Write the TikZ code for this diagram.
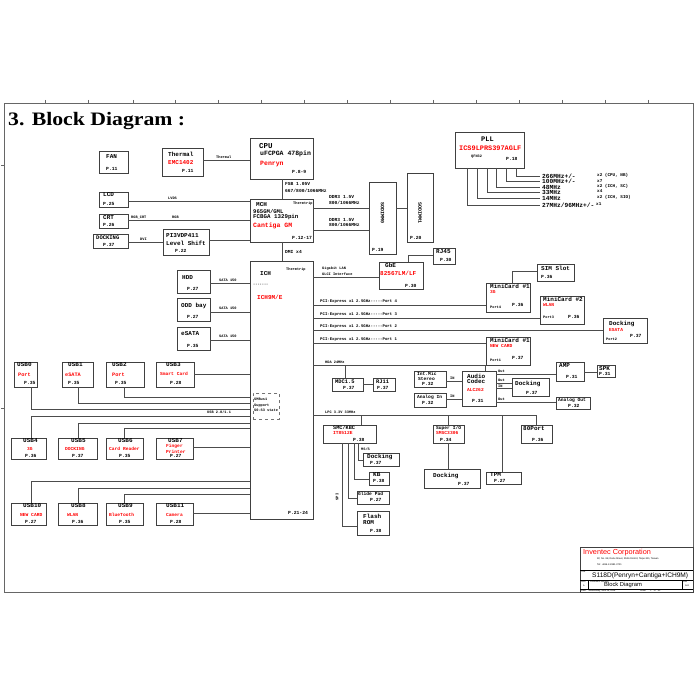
\documentclass[tikz,border=0pt]{standalone}
\usepackage{fontspec}
\usepackage{graphicx}
\setmainfont{Liberation Serif}
\newfontfamily\mono{Liberation Mono}
\newfontfamily\sansf{Liberation Sans}
\newcommand\bx[5]{\node[box,minimum width={(#4-#2)*1pt},minimum height={(#5-#3)*1pt},anchor=north west] (#1) at (#2,#3) {};}
\newcommand\fs[1]{\fontsize{#1}{#1}\selectfont}
\tikzset{
  box/.style={draw=black!75, line width=0.9pt, inner sep=0pt, outer sep=0pt},
  wire/.style={draw=black!70, line width=0.8pt},
  frame/.style={draw=black!60, line width=0.7pt},
  t/.style={inner sep=0pt, anchor=west, font=\mono\bfseries\fs{6}},
  tb/.style={t, font=\mono\bfseries\fs{6.5}},
  tr/.style={t, text=red, font=\mono\bfseries\fs{6}},
  trs/.style={t, text=red, font=\mono\bfseries\fs{4.6}},
  tp/.style={t, font=\mono\bfseries\fs{4.7}},
  tl/.style={t, font=\mono\bfseries\fs{4.6}},
  ts/.style={t, font=\mono\bfseries\fs{3.6}},
  tq/.style={t, font=\mono\bfseries\fs{4}},
  tf/.style={t, font=\mono\bfseries\fs{6.2}},
  tx/.style={t, font=\mono\bfseries\fs{4.3}},
  sf/.style={inner sep=0pt, anchor=west, font=\sansf},
}
\begin{document}
\begin{tikzpicture}[x=1pt,y=-1pt]
\useasboundingbox (0,0) rectangle (700,700);
% ---------- frame ----------
\draw[frame] (4,103) rectangle (693,592);
\foreach \xx in {45,88,133,175,218,261,304,347,390,433,476,519,562,605,648}
  \draw[frame] (\xx,100) -- (\xx,103);
\foreach \yy in {165,408}
  \draw[frame] (1,\yy) -- (4,\yy);
\node[anchor=base west, inner sep=0pt, font=\bfseries\fs{19}] (title) at (8,126) {\scalebox{1.145}[1]{3. Block Diagram :}};

% ---------- boxes ----------
\bx{fan}{99}{151}{128}{173}
\bx{thermal}{162}{148}{203}{176}
\bx{cpu}{250}{138}{313}{179}
\bx{mch}{250}{199}{313}{242}
\bx{sd0}{369}{182}{396}{254}
\bx{sd1}{407}{173}{433}{242}
\bx{pll}{455}{132}{524}{168}
\bx{lcd}{99}{192}{128}{207}
\bx{crt}{99}{214}{128}{228}
\bx{dockv}{93}{234}{128}{248}
\bx{pi3}{163}{229}{209}{255}
\bx{hdd}{177}{270}{210}{293}
\bx{odd}{177}{298}{210}{321}
\bx{esata}{177}{327}{210}{350}
\bx{ich}{250}{261}{313}{519}
\node[draw=black!55, dashed, line width=0.6pt, inner sep=0pt, minimum width=26pt, minimum height=26pt, anchor=north west] (smb) at (253,393) {};
\bx{gbe}{379}{262}{423}{289}
\bx{rj45}{433}{248}{455}{264}
\bx{mca}{486}{283}{530}{312}
\bx{sim}{537}{264}{574}{281}
\bx{mcb}{540}{296}{584}{324}
\bx{docke}{603}{318}{647}{343}
\bx{mcc}{486}{337}{530}{365}
\bx{mdc}{332}{378}{363}{391}
\bx{rj11}{373}{378}{395}{391}
\bx{intmic}{414}{371}{446}{387}
\bx{ain}{414}{393}{446}{407}
\bx{codec}{462}{371}{496}{406}
\bx{amp}{556}{362}{584}{381}
\bx{spk}{597}{365}{615}{377}
\bx{docka}{512}{378}{549}{396}
\bx{aout}{556}{397}{590}{409}
\bx{ec}{323}{425}{376}{443}
\bx{sio}{433}{425}{464}{443}
\bx{p80}{521}{425}{552}{443}
\bx{tpm}{486}{472}{521}{484}
\bx{docks}{424}{469}{480}{488}
\bx{dockk}{363}{453}{399}{466}
\bx{kb}{369}{472}{389}{485}
\bx{gpad}{357}{491}{389}{504}
\bx{rom}{357}{511}{389}{535}
\bx{usb0}{14}{362}{37}{387}
\bx{usb1}{62}{362}{93}{387}
\bx{usb2}{106}{362}{144}{387}
\bx{usb3}{156}{362}{194}{387}
\bx{usb4}{11}{438}{46}{459}
\bx{usb5}{58}{438}{97}{459}
\bx{usb6}{106}{438}{143}{459}
\bx{usb7}{156}{438}{193}{459}
\bx{usb10}{11}{503}{46}{525}
\bx{usb8}{58}{503}{97}{525}
\bx{usb9}{106}{503}{143}{525}
\bx{usb11}{156}{503}{193}{525}

% ---------- texts ----------
\node[t] (fanA) at (106,157) {FAN};
\node[tp] (fanP) at (106,169) {P.11};
\node[t] (thA) at (168,154) {Thermal};
\node[tr] (thB) at (168,163) {EMC1402};
\node[tp] (thP) at (182,171) {P.11};
\node[ts] (thW) at (216,157) {Thermal};

\node[t, font=\mono\bfseries\fs{7.5}] (cpuA) at (259,146) {CPU};
\node[tb] (cpuB) at (260,154) {uFCPGA 478pin};
\node[tr, font=\mono\bfseries\fs{6.5}] (cpuC) at (260,164) {Penryn};
\node[tp] (cpuP) at (292,172) {P.8-9};
\node[tl] (fsbA) at (285,184) {FSB 1.05V};
\node[tl] (fsbB) at (285,191) {667/800/1066MHz};

\node[t] (mchA) at (256,205) {MCH};
\node[ts] (mchS) at (293,204) {Thermtrip};
\node[t, font=\mono\bfseries\fs{5.6}] (mchB) at (253,211) {965GM/GML};
\node[t, font=\mono\bfseries\fs{5.8}] (mchC) at (253,217) {FCBGA 1329pin};
\node[tr, font=\mono\bfseries\fs{6.5}] (mchD) at (253,226) {Cantiga GM};
\node[tp] (mchP) at (292,238) {P.12-17};
\node[tl] (ddrA) at (329,197) {DDR3 1.5V};
\node[tl] (ddrB) at (329,203) {800/1066MHz};
\node[tl] (ddrC) at (329,220) {DDR3 1.5V};
\node[tl] (ddrD) at (329,225) {800/1066MHz};
\node[inner sep=0pt, font=\mono\bfseries\fs{5}] (sd0T) at (382.5,213) {\rotatebox{-90}{SODIMM0}};
\node[tp] (sd0P) at (372,250) {P.19};
\node[inner sep=0pt, font=\mono\bfseries\fs{5}] (sd1T) at (420,213) {\rotatebox{-90}{SODIMM1}};
\node[tp] (sd1P) at (410,238) {P.20};
\node[tl] (dmi) at (285,252) {DMI x4};

\node[t, font=\mono\bfseries\fs{7}] (pllA) at (481,139) {PLL};
\node[tr, font=\mono\bfseries\fs{6.9}] (pllB) at (459,148) {ICS9LPRS397AGLF};
\node[ts] (pllC) at (471,157) {QFN32};
\node[tp] (pllP) at (506,159) {P.18};
\node[tf] (fq1) at (542,176) {266MHz+/-};
\node[tf] (fq2) at (542,181.5) {100MHz+/-};
\node[tf] (fq3) at (542,187) {48MHz};
\node[tf] (fq4) at (542,192.5) {33MHz};
\node[tf] (fq5) at (542,198) {14MHz};
\node[tf] (fq6) at (542,205) {27MHz/96MHz+/-};
\node[tx] (fr1) at (597,175) {x2 (CPU, NB)};
\node[tx] (fr2) at (597,181) {x7};
\node[tx] (fr3) at (597,186) {x2 (ICH, SC)};
\node[tx] (fr4) at (597,191.5) {x4};
\node[tx] (fr5) at (597,197) {x2 (ICH, SIO)};
\node[tx] (fr6) at (596,204) {x1};

\node[t] (lcdA) at (103,195) {LCD};
\node[tp] (lcdP) at (103,204) {P.25};
\node[t] (crtA) at (103,218) {CRT};
\node[tp] (crtP) at (103,225) {P.26};
\node[t, font=\mono\bfseries\fs{5.5}] (dvA) at (96,237.5) {DOCKING};
\node[tp] (dvP) at (103,245) {P.37};
\node[t] (piA) at (166,236) {PI3VDP411};
\node[t] (piB) at (166,243) {Level Shift};
\node[tp] (piP) at (175,251) {P.22};
\node[ts] (lvds) at (168,198) {LVDS};
\node[ts] (rgbc) at (131,217) {RGB\_CRT};
\node[ts] (rgb) at (172,217) {RGB};
\node[ts] (dvi) at (140,239) {DVI};

\node[t] (hddA) at (182,278) {HDD};
\node[tp] (hddP) at (187,289) {P.27};
\node[t] (oddA) at (181,306) {ODD bay};
\node[tp] (oddP) at (187,317) {P.27};
\node[t] (esA) at (181,334) {eSATA};
\node[tp] (esP) at (187,346) {P.35};
\node[ts] (sata1) at (219,280) {SATA 150};
\node[ts] (sata2) at (219,308) {SATA 150};
\node[ts] (sata3) at (219,336) {SATA 150};

\node[t] (ichA) at (260,274) {ICH};
\node[ts] (ichS) at (286,270) {Thermtrip};
\node[ts] (ichT) at (253,285) {-------};
\node[tr] (ichB) at (257,297) {ICH9M/E};
\node[tp] (ichP) at (288,513) {P.21-24};
\node[ts] (smbA) at (254,399) {SMBus1};
\node[ts] (smbB) at (254,406) {Support};
\node[ts] (smbC) at (254,410) {S0-S3 state};

\node[ts] (glA) at (322,269) {Gigabit LAN};
\node[ts] (glB) at (322,274) {GLCI Interface};
\node[t] (gbeA) at (385,265) {GbE};
\node[tr] (gbeB) at (380,273) {82567LM/LF};
\node[tp] (gbeP) at (405,286) {P.30};
\node[t] (rjA) at (436,252) {RJ45};
\node[tp] (rjP) at (440,260) {P.30};

\node[tq] (pe4) at (320,302) {PCI-Express x1 2.5GHz-----Port 4};
\node[tq] (pe3) at (320,315) {PCI-Express x1 2.5GHz-----Port 3};
\node[tq] (pe2) at (320,327) {PCI-Express x1 2.5GHz-----Port 2};
\node[tq] (pe1) at (320,340) {PCI-Express x1 2.5GHz-----Port 1};
\node[t] (mcaA) at (490,286) {MiniCard \#1};
\node[trs] (mcaB) at (490,292) {3G};
\node[ts] (mcaC) at (490,307) {Port4};
\node[tp] (mcaP) at (512,305) {P.36};
\node[t] (simA) at (541,268) {SIM Slot};
\node[tp] (simP) at (541,277) {P.36};
\node[t] (mcbA) at (543,299) {MiniCard \#2};
\node[trs] (mcbB) at (543,305) {WLAN};
\node[ts] (mcbC) at (543,317) {Port3};
\node[tp] (mcbP) at (568,317) {P.36};
\node[t] (dkeA) at (609,324) {Docking};
\node[trs] (dkeB) at (609,330) {ESATA};
\node[ts] (dkeC) at (606,339) {Port2};
\node[tp] (dkeP) at (630,336) {P.37};
\node[t] (mccA) at (490,340) {MiniCard \#1};
\node[trs] (mccB) at (490,346) {NEW CARD};
\node[ts] (mccC) at (490,360) {Port1};
\node[tp] (mccP) at (512,358) {P.37};

\node[ts] (hda) at (325,362) {HDA 24MHz};
\node[t, font=\mono\bfseries\fs{5.4}] (mdcA) at (335,382) {MDC1.5};
\node[tp] (mdcP) at (343,388) {P.37};
\node[t, font=\mono\bfseries\fs{5.4}] (rj11A) at (376,382) {RJ11};
\node[tp] (rj11P) at (377,388) {P.37};
\node[t, font=\mono\bfseries\fs{4.6}] (imA) at (417,374) {Int.Mic};
\node[t, font=\mono\bfseries\fs{4.6}] (imB) at (418,379) {Stereo};
\node[tp] (imP) at (422,384) {P.32};
\node[t, font=\mono\bfseries\fs{4.6}] (aiA) at (417,397) {Analog In};
\node[tp] (aiP) at (422,403) {P.32};
\node[t] (cdA) at (467,376) {Audio};
\node[t] (cdB) at (467,381) {Codec};
\node[trs] (cdC) at (467,390) {ALC262};
\node[tp] (cdP) at (472,401) {P.31};
\node[ts] (in1) at (450,378) {IN};
\node[ts] (in2) at (450,396) {IN};
\node[ts] (ou1) at (498,371) {Out};
\node[ts] (ou2) at (498,380) {Out};
\node[ts] (in3) at (498,386) {IN};
\node[ts] (ou3) at (498,399) {Out};
\node[t] (ampA) at (559,366) {AMP};
\node[tp] (ampP) at (566,377) {P.31};
\node[t] (spkA) at (599,368.5) {SPK};
\node[tp] (spkP) at (599,374) {P.31};
\node[t] (dkaA) at (515,384) {Docking};
\node[tp] (dkaP) at (526,393) {P.37};
\node[t, font=\mono\bfseries\fs{4.6}] (aoA) at (558,400) {Analog Out};
\node[tp] (aoP) at (568,406) {P.32};

\node[ts] (lpc) at (325,412) {LPC 3.3V 33MHz};
\node[t, font=\mono\bfseries\fs{5.2}] (ecA) at (333,428) {SMC/KBC};
\node[trs] (ecB) at (333,433) {IT8512E};
\node[tp] (ecP) at (353,440) {P.38};
\node[t, font=\mono\bfseries\fs{4.6}] (sioA) at (436,428) {Super I/O};
\node[trs] (sioB) at (436,433) {SMSC3306};
\node[tp] (sioP) at (440,440) {P.34};
\node[t] (p80A) at (523,429) {80Port};
\node[tp] (p80P) at (532,440) {P.36};
\node[t] (tpmA) at (490,475) {TPM};
\node[tp] (tpmP) at (494,481) {P.27};
\node[t] (dksA) at (433,476) {Docking};
\node[tp] (dksP) at (458,484) {P.37};
\node[t] (dkkA) at (367,457) {Docking};
\node[tp] (dkkP) at (370,463) {P.37};
\node[ts] (mss) at (361,449) {MS/S};
\node[t] (kbA) at (373,475) {KB};
\node[tp] (kbP) at (373,481) {P.38};
\node[t, font=\mono\bfseries\fs{4.6}] (gpA) at (358,494) {Glide Pad};
\node[tp] (gpP) at (370,500) {P.27};
\node[t] (romA) at (363,516) {Flash};
\node[t] (romB) at (363,523) {ROM};
\node[tp] (romP) at (370,531) {P.38};
\node[inner sep=0pt, font=\mono\bfseries\fs{3.8}] (spi) at (337,497) {\rotatebox{90}{SPI}};

\node[t] (u0A) at (17,365) {USB0};
\node[trs, font=\mono\bfseries\fs{5.2}] (u0B) at (18,375) {Port};
\node[tp] (u0P) at (24,383) {P.35};
\node[t] (u1A) at (68,365) {USB1};
\node[trs, font=\mono\bfseries\fs{5.2}] (u1B) at (65,375) {eSATA};
\node[tp] (u1P) at (68,383) {P.35};
\node[t] (u2A) at (112,365) {USB2};
\node[trs, font=\mono\bfseries\fs{5.2}] (u2B) at (112,375) {Port};
\node[tp] (u2P) at (115,383) {P.35};
\node[t] (u3A) at (166,365) {USB3};
\node[trs] (u3B) at (160,374) {Smart Card};
\node[tp] (u3P) at (170,383) {P.28};
\node[ts] (usbl) at (207,412) {USB 2.0/1.1};

\node[t] (u4A) at (23,441) {USB4};
\node[trs] (u4B) at (27,449) {3G};
\node[tp] (u4P) at (25,456) {P.36};
\node[t] (u5A) at (71,441) {USB5};
\node[trs] (u5B) at (65,449) {DOCKING};
\node[tp] (u5P) at (72,456) {P.37};
\node[t] (u6A) at (118,441) {USB6};
\node[trs] (u6B) at (109,449) {Card Reader};
\node[tp] (u6P) at (119,456) {P.35};
\node[t] (u7A) at (168,441) {USB7};
\node[trs] (u7B) at (166,446) {Finger};
\node[trs] (u7C) at (166,452) {Printer};
\node[tp] (u7P) at (170,456) {P.27};
\node[t] (u10A) at (23,506) {USB10};
\node[trs] (u10B) at (20,515) {NEW CARD};
\node[tp] (u10P) at (25,522) {P.27};
\node[t] (u8A) at (71,506) {USB8};
\node[trs] (u8B) at (67,515) {WLAN};
\node[tp] (u8P) at (72,522) {P.36};
\node[t] (u9A) at (118,506) {USB9};
\node[trs] (u9B) at (109,515) {BlueTooth};
\node[tp] (u9P) at (119,522) {P.35};
\node[t] (u11A) at (166,506) {USB11};
\node[trs] (u11B) at (166,515) {Camera};
\node[tp] (u11P) at (170,522) {P.28};

% ---------- title block ----------
\bx{tblk}{580}{547}{693}{592}
\draw[line width=0.5pt] (tblk.west |- 0,570) -- (tblk.east |- 0,570);
\draw[line width=0.5pt] (tblk.west |- 0,580) -- (tblk.east |- 0,580);
\draw[line width=0.5pt] (tblk.west |- 0,589) -- (tblk.east |- 0,589);
\draw[line width=0.4pt] (588,580) -- (588,589);
\draw[line width=0.4pt] (682,580) -- (682,589);
\node[sf, text=red, font=\sansf\fs{7.3}] (inv) at (583,553) {Inventec Corporation};
\node[sf, font=\sansf\fs{2.4}] (addr) at (597,559) {9F, No. 88, Dahu Street, Shilin District, Taipei 111, Taiwan};
\node[sf, font=\sansf\fs{2.4}] (tel) at (597,565) {Tel: +886-2-2881-0721};
\node[sf, font=\sansf\fs{2.2}] (ttl) at (581,572) {Title};
\node[sf, font=\sansf\fs{6.6}] (sheetT) at (592,576) {S118D(Penryn+Cantiga+ICH9M)};
\node[sf, font=\sansf\fs{2.2}] (sz) at (581,582) {Size};
\node[sf, font=\sansf\fs{2.2}] (szv) at (583,586) {A};
\node[sf, font=\sansf\fs{2.2}] (dn) at (590,582) {Document Number};
\node[sf, font=\sansf\fs{5.8}] (bd) at (604,585) {Block Diagram};
\node[sf, font=\sansf\fs{2.2}] (rv) at (683,582) {Rev};
\node[sf, font=\sansf\fs{2.2}] (rvv) at (685,586) {A00};
\node[sf, font=\sansf\fs{2.2}] (dt) at (581,590.5) {Date:\quad Wednesday, June 18, 2008};
\node[sf, font=\sansf\fs{2.2}] (sh) at (640,590.5) {Sheet\qquad 1\quad of\quad 40};

% ---------- connectors ----------
\draw[wire] (thermal.east |- 0,160) -- (cpu.west |- 0,160);
\draw[wire] (cpu.south -| 282,0) -- (mch.north -| 282,0);
\draw[wire] (mch.east |- 0,208) -- (sd0.west |- 0,208);
\draw[wire] (mch.east |- 0,230) -- (sd0.west |- 0,230);
\draw[wire] (sd0.east |- 0,208) -- (sd1.west |- 0,208);
\draw[wire] (mch.south -| 282,0) -- (ich.north -| 282,0);
\coordinate (c1) at (540,176);
\coordinate (c2) at (540,181.5);
\coordinate (c3) at (540,187);
\coordinate (c4) at (540,192.5);
\coordinate (c5) at (540,198);
\coordinate (c6) at (540,205);
\draw[wire] (pll.south -| 516,0) |- (c1);
\draw[wire] (pll.south -| 506,0) |- (c2);
\draw[wire] (pll.south -| 496,0) |- (c3);
\draw[wire] (pll.south -| 487,0) |- (c4);
\draw[wire] (pll.south -| 477,0) |- (c5);
\draw[wire] (pll.south -| 467,0) |- (c6);
\draw[wire] (lcd.east |- 0,201) -- (mch.west |- 0,201);
\draw[wire] (crt.east |- 0,220) -- (mch.west |- 0,220);
\draw[wire] (dockv.east |- 0,242) -- (pi3.west |- 0,242);
\draw[wire] (pi3.east |- 0,240) -- (mch.west |- 0,240);
\draw[wire] (hdd.east |- 0,283) -- (ich.west |- 0,283);
\draw[wire] (odd.east |- 0,312) -- (ich.west |- 0,312);
\draw[wire] (esata.east |- 0,340) -- (ich.west |- 0,340);
\draw[wire] (ich.east |- 0,277) -- (gbe.west |- 0,277);
\draw[wire] (gbe.north -| 408,0) |- (rj45.west |- 0,255);
\draw[wire] (ich.east |- 0,305) -- (mca.west |- 0,305);
\draw[wire] (ich.east |- 0,318) -- (mcb.west |- 0,318);
\draw[wire] (ich.east |- 0,330) -- (docke.west |- 0,330);
\draw[wire] (ich.east |- 0,343) -- (mcc.west |- 0,343);
\draw[wire] (mca.north -| 512,0) |- (sim.west |- 0,271);
\coordinate (hdaj) at (345,365);
\draw[wire] (ich.east |- 0,365) -| (codec.north -| 485,0);
\draw[wire] (hdaj) -- (mdc.north -| 345,0);
\draw[wire] (mdc.east |- 0,384) -- (rj11.west |- 0,384);
\draw[wire] (intmic.east |- 0,381) -- (codec.west |- 0,381);
\draw[wire] (ain.east |- 0,399) -- (codec.west |- 0,399);
\draw[wire] (codec.east |- 0,374) -- (amp.west |- 0,374);
\draw[wire] (codec.east |- 0,383) -- (docka.west |- 0,383);
\draw[wire] (codec.east |- 0,388) -- (docka.west |- 0,388);
\draw[wire] (codec.east |- 0,402) -- (aout.west |- 0,402);
\draw[wire] (amp.east |- 0,372) -- (spk.west |- 0,372);
\coordinate (lpcA) at (361,415);
\coordinate (lpcB) at (448,415);
\coordinate (lpcC) at (502,415);
\draw[wire] (ich.east |- 0,415) -| (p80.north);
\draw[wire] (lpcA) -- (ec.north -| 361,0);
\draw[wire] (lpcB) -- (sio.north -| 448,0);
\draw[wire] (lpcC) -- (tpm.north -| 502,0);
\draw[wire] (sio.south -| 448,0) -- (docks.north -| 448,0);
\draw[wire] (ec.south -| 358,0) |- (dockk.west |- 0,460);
\draw[wire] (ec.south -| 354,0) |- (kb.west |- 0,479);
\draw[wire] (ec.south -| 348,0) |- (gpad.west |- 0,498);
\draw[wire] (ec.south -| 342,0) |- (rom.west |- 0,526);
\draw[wire] (usb0.south -| 31,0) |- (ich.west |- 0,409);
\draw[wire] (usb1.south -| 78,0) |- (ich.west |- 0,403);
\draw[wire] (usb2.south -| 124,0) |- (ich.west |- 0,397);
\draw[wire] (usb3.east |- 0,374) -- (ich.west |- 0,374);
\draw[wire] (usb4.north -| 31,0) |- (ich.west |- 0,416);
\draw[wire] (usb5.north -| 78,0) |- (ich.west |- 0,423);
\draw[wire] (usb6.north -| 124,0) |- (ich.west |- 0,428);
\draw[wire] (usb7.east |- 0,447) -- (ich.west |- 0,447);
\draw[wire] (usb10.north -| 31,0) |- (ich.west |- 0,481);
\draw[wire] (usb8.north -| 78,0) |- (ich.west |- 0,488);
\draw[wire] (usb9.north -| 124,0) |- (ich.west |- 0,494);
\draw[wire] (usb11.east |- 0,513) -- (ich.west |- 0,513);
\end{tikzpicture}
\end{document}
